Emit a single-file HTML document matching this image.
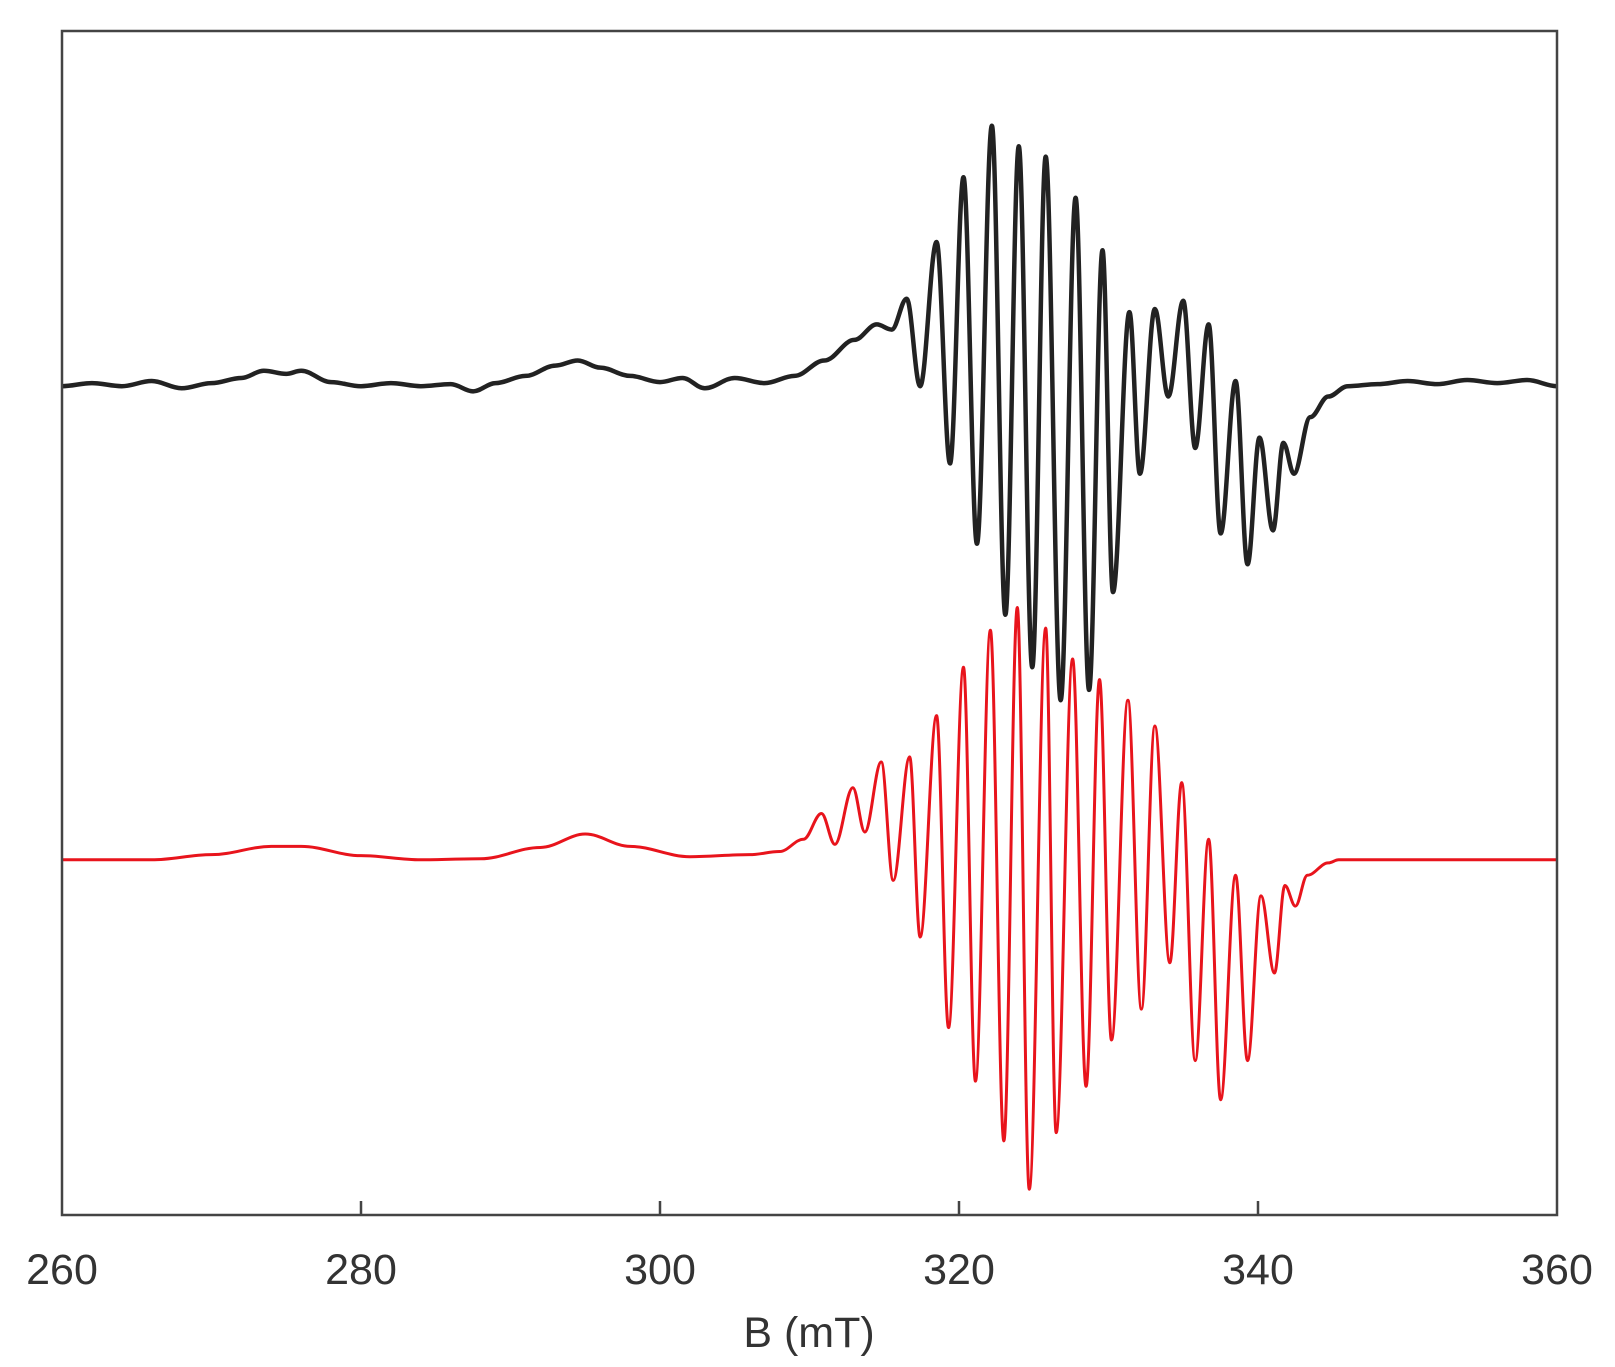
<!DOCTYPE html>
<html><head><meta charset="utf-8"><style>
html,body{margin:0;padding:0;background:#fff;}
svg{display:block;font-family:"Liberation Sans",sans-serif;}
</style></head><body>
<svg id="chart" width="1615" height="1367" viewBox="0 0 1615 1367">
<rect x="0" y="0" width="1615" height="1367" fill="#fff"/>
<g id="series"></g>
<rect x="62" y="31" width="1495" height="1184" fill="none" stroke="#444" stroke-width="2.5"/>
<g id="xaxis"></g>
<text x="809" y="1347" font-size="43" fill="#333" text-anchor="middle">B (mT)</text>
</svg>
<script>
const xTicks = [260, 280, 300, 320, 340, 360];
const expField = [260,262,264,266,268,270,272,273.5,275,276,278,280,282,284,286,287.5,289,291,293,294.5,296,298,300,301.5,303,305,307,309,311,313,314.5,315.5,316.5,317.4,318.5,319.4,320.3,321.2,322.2,323.1,324.0,324.9,325.8,326.8,327.8,328.7,329.6,330.3,331.4,332.1,333.1,334.0,335.0,335.8,336.7,337.5,338.5,339.3,340.1,341.0,341.7,342.4,343.5,344.7,346,348,350,352,354,356,358,360];
const expSignal = [0,0.03,0,0.05,-0.02,0.03,0.08,0.15,0.12,0.15,0.04,0,0.03,0,0.02,-0.05,0.03,0.1,0.2,0.25,0.18,0.1,0.04,0.08,-0.02,0.08,0.03,0.1,0.25,0.45,0.6,0.55,0.85,0,1.4,-0.75,2.03,-1.53,2.53,-2.22,2.33,-2.73,2.23,-3.05,1.83,-2.95,1.32,-2.0,0.72,-0.85,0.75,-0.1,0.83,-0.6,0.6,-1.43,0.05,-1.73,-0.5,-1.4,-0.55,-0.85,-0.3,-0.1,0,0.02,0.05,0.02,0.06,0.03,0.06,0];
const simField = [260,266,270,274,276,280,284,288,292,295,298,302,306,308,309.6,310.8,311.7,312.9,313.7,314.8,315.6,316.7,317.4,318.5,319.3,320.3,321.1,322.1,323.0,323.9,324.7,325.8,326.5,327.6,328.5,329.4,330.2,331.3,332.2,333.1,334.1,334.9,335.8,336.7,337.5,338.5,339.3,340.2,341.1,341.8,342.5,343.3,344.7,345.4,360];
const simSignal = [0,0,0.05,0.13,0.13,0.04,0,0.01,0.12,0.25,0.13,0.03,0.05,0.08,0.2,0.45,0.15,0.7,0.27,0.95,-0.2,1.0,-0.75,1.4,-1.63,1.87,-2.15,2.23,-2.73,2.45,-3.2,2.25,-2.65,1.95,-2.2,1.75,-1.75,1.55,-1.45,1.3,-1.0,0.75,-1.95,0.2,-2.33,-0.15,-1.95,-0.35,-1.1,-0.25,-0.45,-0.15,-0.03,0,0];
const expOffset = 4.6;
const simOffset = 0;

const NS = "http://www.w3.org/2000/svg";
const X0 = 62, X1 = 1557, Y0 = 31, Y1 = 1215;
const yMin = -3.45, yMax = 8.05;
function xScale(v){ return X0 + (v - 260) / 100 * (X1 - X0); }
function yScale(v){ return Y1 - (v - yMin) / (yMax - yMin) * (Y1 - Y0); }

function pathFrom(xs, ys, off){
  let d = "M" + xScale(xs[0]).toFixed(2) + "," + yScale(ys[0] + off).toFixed(2);
  for (let i = 1; i < xs.length; i++){
    const xa = xScale(xs[i-1]), xb = xScale(xs[i]);
    const ya = yScale(ys[i-1] + off), yb = yScale(ys[i] + off);
    const dx = (xb - xa) * 0.36;
    d += " C" + (xa+dx).toFixed(2) + "," + ya.toFixed(2) + " " + (xb-dx).toFixed(2) + "," + yb.toFixed(2) + " " + xb.toFixed(2) + "," + yb.toFixed(2);
  }
  return d;
}
const g = document.getElementById("series");
const p1 = document.createElementNS(NS, "path");
p1.setAttribute("d", pathFrom(expField, expSignal, expOffset));
p1.setAttribute("fill", "none");
p1.setAttribute("stroke", "#222");
p1.setAttribute("stroke-width", "4.5");
p1.setAttribute("stroke-linejoin", "round");


g.appendChild(p1);
const p2 = document.createElementNS(NS, "path");
p2.setAttribute("d", pathFrom(simField, simSignal, simOffset));
p2.setAttribute("fill", "none");
p2.setAttribute("stroke", "#e8141c");
p2.setAttribute("stroke-width", "3");
p2.setAttribute("stroke-linejoin", "round");


g.appendChild(p2);

const ax = document.getElementById("xaxis");
xTicks.forEach(t => {
  const x = xScale(t);
  if (t > 260 && t < 360){
    const l = document.createElementNS(NS, "line");
    l.setAttribute("x1", x); l.setAttribute("x2", x);
    l.setAttribute("y1", Y1); l.setAttribute("y2", Y1 - 14);
    l.setAttribute("stroke", "#444"); l.setAttribute("stroke-width", "2.5");
    
    
    ax.appendChild(l);
  }
  const tx = document.createElementNS(NS, "text");
  tx.setAttribute("x", x); tx.setAttribute("y", 1284);
  tx.setAttribute("font-size", "43"); tx.setAttribute("fill", "#333");
  tx.setAttribute("text-anchor", "middle");
  tx.textContent = t;
  
  
  ax.appendChild(tx);
});
</script>
</body></html>
